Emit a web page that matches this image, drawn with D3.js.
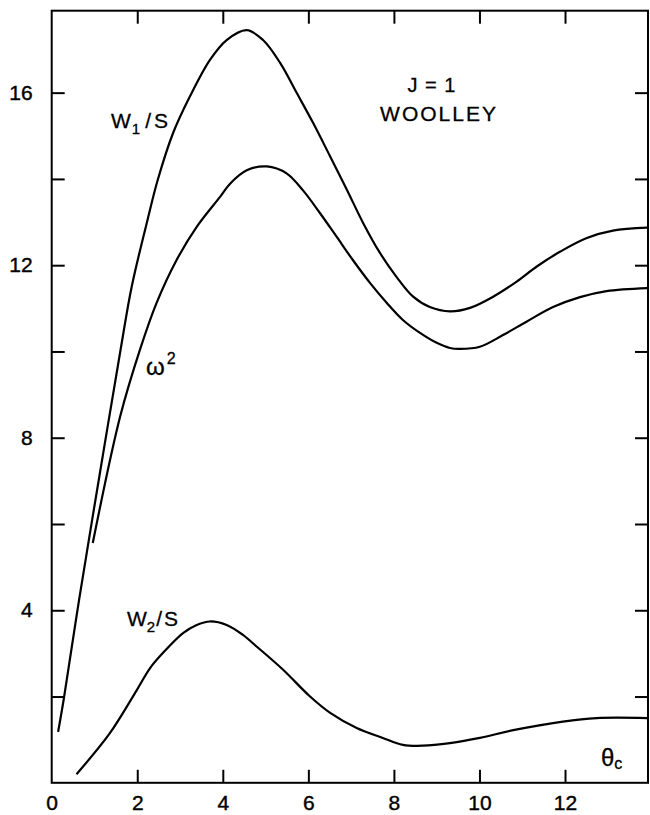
<!DOCTYPE html>
<html><head><meta charset="utf-8">
<script src="https://cdn.jsdelivr.net/npm/d3@7"></script>
<style>body{margin:0;background:#fff}svg{display:block}</style>
</head><body>
<svg id="c" width="650" height="815"></svg>
<script>
// ---- data ----
const w1Theta = [0.15,0.29,0.64,1.13,1.61,1.87,2.24,2.48,2.84,3.23,3.70,4.09,4.56,4.94,5.34,5.73,6.11,6.51,6.90,7.28,7.67,8.06,8.45,8.84,9.31,9.78,10.32,10.87,11.34,11.88,12.51,13.12,13.92];
const w1Val   = [1.18,1.99,4.24,7.20,10.04,11.50,13.05,13.98,15.07,15.91,16.76,17.22,17.45,17.22,16.69,15.99,15.30,14.52,13.75,12.98,12.29,11.73,11.27,11.03,10.93,11.01,11.27,11.62,11.97,12.31,12.63,12.80,12.87];

const omTheta = [0.96,1.60,2.06,2.45,2.92,3.39,3.94,4.17,4.56,5.03,5.49,5.87,6.27,6.66,7.04,7.44,7.83,8.21,8.61,9.00,9.31,9.54,10.01,10.55,11.10,11.72,12.35,12.97,13.92];
const omVal   = [5.56,8.49,10.03,11.12,12.12,12.89,13.59,13.89,14.20,14.29,14.13,13.74,13.21,12.66,12.12,11.59,11.13,10.73,10.43,10.20,10.08,10.06,10.11,10.38,10.69,11.03,11.26,11.40,11.47];

const w2Theta = [0.58,1.36,1.99,2.30,2.60,3.07,3.39,3.70,4.09,4.47,4.79,5.41,6.04,6.51,7.13,7.74,8.21,8.68,9.31,10.01,10.79,11.95,12.74,13.92];
const w2Val   = [0.20,1.15,2.15,2.66,3.01,3.47,3.66,3.74,3.66,3.43,3.16,2.62,2.00,1.62,1.27,1.04,0.88,0.86,0.92,1.04,1.22,1.42,1.50,1.50];

const xTickVals  = [0,2,4,6,8,10,12];
const xTickMarks = [2,4,6,8,10,12];
const yTickVals  = [2,4,6,8,10,12,14,16];
const yLabelVals = [4,8,12,16];

// ---- layout ----
const svg = d3.select("#c");
const x = d3.scaleLinear().domain([0, 13.94]).range([51.7, 648]);
const y = d3.scaleLinear().domain([0, 17.9]).range([782.8, 10.7]);
const FONT = "'Liberation Sans', Arial, sans-serif";
const TL = 13;

// frame
svg.append("rect")
  .attr("x", x(0)).attr("y", y(17.9))
  .attr("width", x(13.94) - x(0)).attr("height", y(0) - y(17.9))
  .attr("fill", "none").attr("stroke", "#000").attr("stroke-width", 2);

// left axis
const gL = svg.append("g").attr("transform", `translate(${x(0)},0)`)
  .call(d3.axisLeft(y).tickValues(yTickVals).tickSize(-TL).tickPadding(19)
    .tickFormat(d => yLabelVals.includes(d) ? d : ""));
// right axis
const gR = svg.append("g").attr("transform", `translate(${x(13.94)},0)`)
  .call(d3.axisRight(y).tickValues(yTickVals).tickSize(-TL).tickFormat(""));
// bottom axis
const gB = svg.append("g").attr("transform", `translate(0,${y(0)})`)
  .call(d3.axisBottom(x).tickValues(xTickVals).tickSize(-TL).tickPadding(12));
// top axis
const gT = svg.append("g").attr("transform", `translate(0,${y(17.9)})`)
  .call(d3.axisTop(x).tickValues(xTickMarks).tickSize(-TL).tickFormat(""));

[gL, gR, gB, gT].forEach(g => {
  g.select(".domain").remove();
  g.selectAll("line").attr("stroke", "#000").attr("stroke-width", 2);
  g.selectAll("text").attr("font-family", FONT).attr("font-size", 21).attr("fill", "#000")
    .attr("stroke", "#000").attr("stroke-width", 0.4);
});
gB.selectAll(".tick").filter(d => d === 0).select("line").remove();

// curves
const line = d3.line().x(d => x(d[0])).y(d => y(d[1])).curve(d3.curveCatmullRom.alpha(0.5));
const series = [
  d3.zip(w1Theta, w1Val),
  d3.zip(omTheta, omVal),
  d3.zip(w2Theta, w2Val)
];
svg.selectAll("path.curve").data(series).join("path")
  .attr("class", "curve")
  .attr("d", line)
  .attr("fill", "none").attr("stroke", "#000").attr("stroke-width", 2.2)
  .attr("stroke-linejoin", "round");

// labels
function lbl(px, py, size) {
  return svg.append("text").attr("x", px).attr("y", py)
    .attr("font-family", FONT).attr("font-size", size).attr("fill", "#000")
    .attr("stroke", "#000").attr("stroke-width", 0.3);
}
let t = lbl(111, 128, 21);
t.append("tspan").text("W");
t.append("tspan").attr("font-size", 15).attr("dy", 6).attr("dx", 1).text("1");
t.append("tspan").attr("dy", -6).attr("dx", 5).text("/");
t.append("tspan").attr("dx", 3).text("S");

t = lbl(127, 626, 21);
t.append("tspan").text("W");
t.append("tspan").attr("font-size", 15).attr("dy", 6).text("2");
t.append("tspan").attr("dy", -6).attr("dx", 1).text("/");
t.append("tspan").attr("dx", 2).text("S");

t = lbl(146, 375, 24);
t.append("tspan").text("ω");
t.append("tspan").attr("font-size", 16).attr("dy", -11).attr("dx", 2).text("2");

t = lbl(601, 766, 24);
t.append("tspan").text("θ");
t.append("tspan").attr("font-size", 16).attr("dy", 3).text("c");

lbl(432, 92, 20).attr("text-anchor", "middle").attr("letter-spacing", 1).text("J = 1");
lbl(439, 121, 21).attr("text-anchor", "middle").attr("letter-spacing", 2).text("WOOLLEY");
</script>
</body></html>
